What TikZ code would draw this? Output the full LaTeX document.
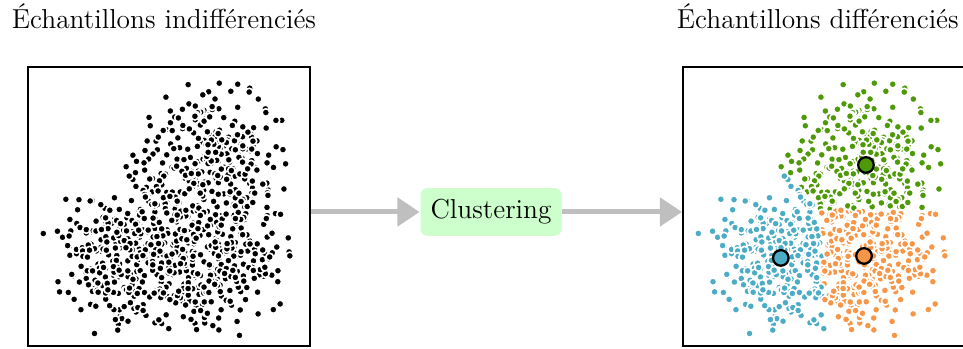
\documentclass[tikz,border=0pt]{standalone}
\usepackage{tikz}
\usetikzlibrary{positioning,arrows.meta}

\definecolor{vertgrp}{HTML}{4E9A06}
\definecolor{bleugrp}{HTML}{4BACC6}
\definecolor{orangegrp}{HTML}{F79646}

% nuage de points : #1 = 0 (noir) ou 1 (couleur du centre le plus proche)
\newcommand{\nuage}[1]{%
\pgfmathsetseed{2718}
\foreach \cx/\cy in {2.83/2.80,1.52/1.37,2.80/1.40}{
  \foreach \i in {1,...,310}{
    \pgfmathsetmacro\rr{0.56*sqrt(-2*ln(0.06+0.94*rnd))}
    \pgfmathsetmacro\aa{360*rnd}
    \pgfmathsetmacro\px{\cx+\rr*cos(\aa)}
    \pgfmathsetmacro\py{\cy+\rr*sin(\aa)}
    \pgfmathsetmacro\dv{(\px-2.83)*(\px-2.83)+(\py-2.80)*(\py-2.80)}
    \pgfmathsetmacro\db{(\px-1.52)*(\px-1.52)+(\py-1.37)*(\py-1.37)}
    \pgfmathsetmacro\dor{(\px-2.80)*(\px-2.80)+(\py-1.40)*(\py-1.40)}
    \pgfmathtruncatemacro\k{#1*((\db<\dv && \db<\dor) ? 2 : ((\dor<\dv) ? 3 : 1))}
    \ifcase\k \def\coul{black}\or \def\coul{vertgrp}\or \def\coul{bleugrp}\or \def\coul{orangegrp}\fi
    \filldraw[pt, fill=\coul] (\px,\py) circle (0.058);
  }}}

\begin{document}
\begin{tikzpicture}[thick,
  boite/.style={draw, line width=1pt, minimum width=4.34cm, minimum height=4.29cm, inner sep=0pt},
  pt/.style={draw=white, line width=0.7pt},
  fleche/.style={draw=black!25, line width=2.2pt, -{Triangle[length=0.34cm, width=0.43cm]}},
  etape/.style={fill=green!20, rounded corners=3pt, inner xsep=4.4pt, inner ysep=5pt, font=\large},
  titre/.style={font=\large, inner sep=2pt},
  centre/.style={draw=black, line width=1pt}]
\useasboundingbox (0,0) rectangle (14.815,5.369);

\coordinate (A) at (0.415,0.031);
\coordinate (B) at (10.492,0.031);

% points avant
\begin{scope}[shift={(A)}]
\nuage{0}
\end{scope}
% points apres
\begin{scope}[shift={(B)}]
\nuage{1}
\filldraw[centre, fill=vertgrp] (2.83,2.80) circle (0.12);
\filldraw[centre, fill=bleugrp] (1.52,1.37) circle (0.12);
\filldraw[centre, fill=orangegrp] (2.80,1.40) circle (0.12);
\end{scope}

\node[boite, anchor=south west] (avant) at (A) {};
\node[boite, anchor=south west] (apres) at (B) {};

\node[titre, above=0.48cm of avant, xshift=-0.08cm] {Échantillons indifférenciés};
\node[titre, above=0.48cm of apres.north west, anchor=south, xshift=2.09cm] {Échantillons différenciés};

\node[etape] (clust) at (7.554,2.108) {Clustering};
\draw[fleche] (clust -| avant.east) -- (clust);
\draw[fleche] (clust) -- (clust -| apres.west);

\end{tikzpicture}
\end{document}
